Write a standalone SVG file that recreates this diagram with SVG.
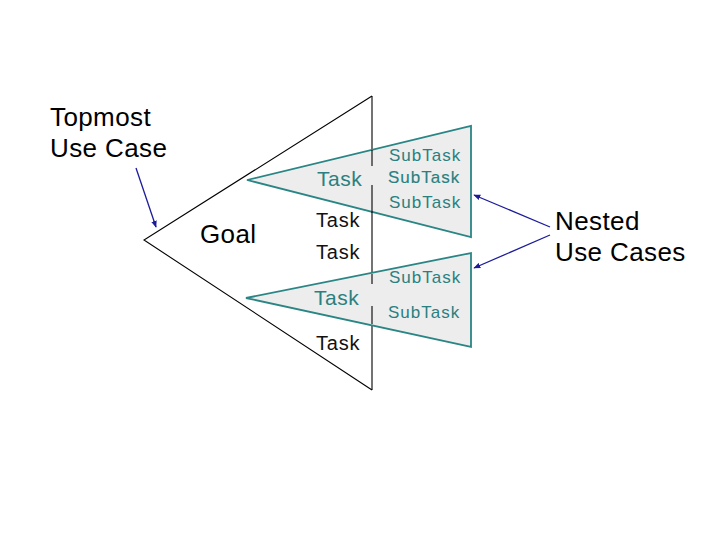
<svg xmlns="http://www.w3.org/2000/svg" width="720" height="540" viewBox="0 0 720 540">
<defs>
<style>
.big{fill:none;stroke:#000;stroke-width:1.1}
.sub{fill:#ededed;stroke:#2a8585;stroke-width:1.8}
.lbl{font-family:"Liberation Sans",Arial,sans-serif;font-size:26px;fill:#000;letter-spacing:0.4px}
.task{font-family:"Liberation Sans",Arial,sans-serif;font-size:20px;fill:#111;letter-spacing:0.8px}
.ttask{font-family:"Liberation Sans",Arial,sans-serif;font-size:21px;fill:#2a8080;letter-spacing:0.5px}
.st{font-family:"Liberation Sans",Arial,sans-serif;font-size:17px;fill:#2a8080;letter-spacing:1px}
.arr{stroke:#1c1c9a;stroke-width:1.3;fill:none;marker-end:url(#ah)}
</style>
<marker id="ah" viewBox="0 0 10 10" refX="9" refY="5" markerWidth="7" markerHeight="7" markerUnits="userSpaceOnUse" orient="auto">
<path d="M0,1 L10,5 L0,9 Z" fill="#1c1c9a"/>
</marker>
</defs>
<rect width="720" height="540" fill="#fff"/>
<g id="goal">
<polyline class="big" points="372,96 144,240 372,390"/>
<line class="big" x1="372" y1="96" x2="372" y2="166"/>
<line class="big" x1="372" y1="185" x2="372" y2="284"/>
<line class="big" x1="372" y1="306" x2="372" y2="390"/>
<text class="lbl" x="200" y="243">Goal</text>
<text class="task" x="316" y="227">Task</text>
<text class="task" x="316" y="259">Task</text>
<text class="task" x="316" y="350">Task</text>
</g>
<g id="nested1">
<polygon class="sub" points="247,180 471,126 471,237"/>
<line class="big" x1="372" y1="150" x2="372" y2="166"/>
<line class="big" x1="372" y1="185" x2="372" y2="213"/>
<text class="ttask" x="317" y="186">Task</text>
<text class="st" x="389" y="161">SubTask</text>
<text class="st" x="388" y="183" style="stroke:#2a8080;stroke-width:0.15">SubTask</text>
<text class="st" x="389" y="208">SubTask</text>
</g>
<g id="nested2">
<polygon class="sub" points="246,298 471,253 471,347"/>
<line class="big" x1="372" y1="274" x2="372" y2="284"/>
<line class="big" x1="372" y1="306" x2="372" y2="324"/>
<text class="ttask" x="314" y="305">Task</text>
<text class="st" x="389" y="283">SubTask</text>
<text class="st" x="388" y="318">SubTask</text>
</g>
<g id="topmost-label">
<text class="lbl" x="50" y="126">Topmost</text>
<text class="lbl" x="50" y="157">Use Case</text>
</g>
<g id="nested-label">
<text class="lbl" x="555" y="230">Nested</text>
<text class="lbl" x="555" y="261">Use Cases</text>
</g>
<g id="connectors">
<line class="arr" x1="136" y1="168" x2="156" y2="227"/>
<line class="arr" x1="550" y1="227" x2="474" y2="195"/>
<line class="arr" x1="550" y1="235" x2="474" y2="268"/>
</g>
</svg>
